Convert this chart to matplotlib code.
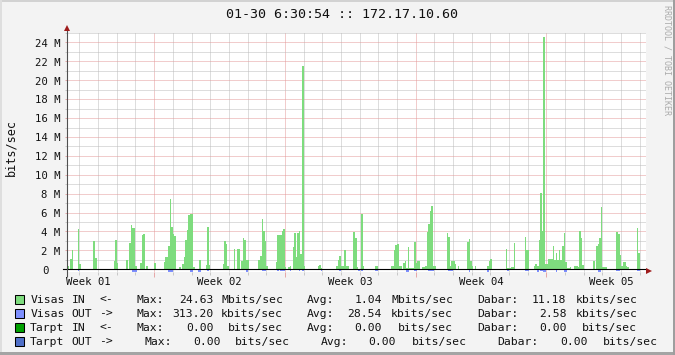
import numpy as np
import matplotlib
matplotlib.use("Agg")
import matplotlib.pyplot as plt
from matplotlib import transforms
from matplotlib.patches import Rectangle

# ---------------- data ----------------
title = "01-30 6:30:54 :: 172.17.10.60"
y_label = "bits/sec"
watermark = "RRDTOOL / TOBI OETIKER"
week_labels = ["Week 01", "Week 02", "Week 03", "Week 04", "Week 05"]
week_label_hours = [28, 196, 364, 532, 700]
week_start_hours = [112, 280, 448, 616]
day_start_hours = [h for h in range(16, 744, 24) if h not in (112, 280, 448, 616)]
span_hours = 744
step_hours = 2
y_major_ticks = list(range(0, 25, 2))
y_minor_ticks = list(range(1, 26, 2))
y_tick_labels = ["0"] + [f"{v} M" for v in range(2, 25, 2)]

# Visas IN (Mbit/s), start hour of each 2-hour sample
in_hours = [
    0, 4, 6, 14, 16, 34, 36, 60, 62, 64,
    76, 80, 82, 84, 86, 88, 94, 96, 98, 102,
    112, 124, 126, 128, 130, 132, 134, 136, 138, 144,
    148, 150, 152, 154, 156, 158, 160, 162, 170, 178,
    180, 182, 200, 202, 204, 206, 214, 218, 220, 224,
    226, 228, 230, 232, 246, 248, 250, 252, 254, 256,
    268, 270, 272, 274, 276, 278, 280, 284, 286, 290,
    292, 294, 296, 298, 300, 302, 304, 322, 324, 326,
    346, 348, 350, 352, 354, 356, 358, 360, 368, 370,
    372, 378, 380, 396, 398, 416, 418, 420, 422, 424,
    426, 428, 432, 434, 436, 438, 440, 442, 444, 446,
    448, 450, 452, 456, 458, 460, 462, 464, 466, 468,
    470, 472, 488, 490, 492, 494, 496, 498, 502, 514,
    516, 518, 520, 524, 540, 542, 544, 564, 566, 568,
    570, 572, 574, 588, 590, 592, 600, 602, 604, 606,
    608, 610, 612, 614, 616, 618, 620, 622, 624, 626,
    628, 630, 632, 634, 636, 638, 640, 642, 644, 646,
    652, 654, 656, 658, 660, 662, 676, 680, 682, 684,
    686, 688, 690, 692, 706, 708, 710, 712, 714, 716,
    718, 720, 732, 734]
in_mbps = [
    0.3, 1.1, 2.0, 4.3, 0.55, 3.0, 1.15, 0.9, 3.1, 0.7,
    0.95, 2.75, 4.7, 4.4, 4.35, 0.3, 0.7, 3.65, 3.75, 0.3,
    0.7, 0.8, 1.3, 1.3, 2.5, 7.4, 4.5, 3.7, 3.5, 0.25,
    0.55, 1.3, 3.1, 4.2, 5.7, 5.8, 5.8, 0.2, 1.0, 0.5,
    4.5, 0.5, 0.6, 3.0, 2.7, 0.4, 2.2, 2.2, 2.2, 0.9,
    3.3, 3.1, 1.0, 1.0, 1.0, 1.4, 5.3, 4.0, 3.0, 0.3,
    0.8, 3.6, 3.6, 3.6, 4.1, 4.3, 0.2, 0.2, 0.3, 2.4,
    3.8, 1.3, 3.8, 4.0, 1.6, 21.5, 0.3, 0.3, 0.5, 0.1,
    0.4, 1.0, 1.45, 0.4, 0.4, 2.0, 0.4, 0.4, 3.9, 3.3,
    0.2, 5.9, 0.3, 0.4, 0.35, 0.3, 0.3, 2.0, 2.6, 2.7,
    0.3, 0.4, 0.7, 0.85, 0.1, 2.4, 0.1, 0.1, 0.1, 2.9,
    0.7, 0.9, 0.9, 0.2, 0.25, 0.3, 3.9, 4.8, 6.2, 6.7,
    0.3, 0.3, 3.8, 3.4, 0.3, 0.9, 0.9, 0.6, 0.3, 2.9,
    3.2, 0.9, 0.3, 0.35, 0.4, 0.9, 1.1, 2.1, 0.1, 0.1,
    0.2, 0.2, 2.8, 3.4, 2.0, 2.0, 0.4, 0.55, 0.3, 3.1,
    8.1, 4.0, 24.6, 0.55, 0.55, 1.1, 1.1, 1.1, 2.5, 1.0,
    1.75, 1.0, 2.0, 1.0, 2.5, 3.8, 0.8, 0.1, 0.15, 0.2,
    0.4, 0.3, 0.2, 4.0, 3.3, 0.5, 0.9, 2.5, 2.7, 3.3,
    6.6, 0.2, 0.25, 0.25, 3.9, 3.7, 1.5, 0.3, 0.8, 0.8,
    0.35, 0.2, 4.4, 1.7]

# Visas OUT (Mbit/s), drawn below the zero line
out_hours = [
    14, 84, 86, 88, 130, 132, 134, 158, 160, 168,
    170, 180, 230, 250, 252, 254, 270, 274, 276, 278,
    286, 298, 302, 326, 350, 374, 378, 396, 398, 436,
    438, 446, 448, 464, 466, 468, 470, 490, 492, 494,
    516, 540, 566, 588, 590, 592, 604, 608, 610, 612,
    614, 628, 638, 640, 682, 684, 706, 708, 732, 734]
out_mbps = [
    0.15, 0.25, 0.25, 0.25, 0.25, 0.25, 0.25, 0.25, 0.25, 0.3,
    0.3, 0.2, 0.3, 0.2, 0.2, 0.2, 0.2, 0.2, 0.2, 0.2,
    0.15, 0.2, 0.2, 0.15, 0.2, 0.2, 0.2, 0.2, 0.2, 0.3,
    0.3, 0.2, 0.2, 0.2, 0.2, 0.2, 0.2, 0.2, 0.2, 0.2,
    0.3, 0.25, 0.15, 0.2, 0.2, 0.2, 0.3, 0.2, 0.2, 0.31,
    0.3, 0.3, 0.3, 0.3, 0.3, 0.3, 0.2, 0.2, 0.2, 0.2]

# legend
series_first = ["Visas", "Visas", "Tarpt", "Tarpt"]
series_second = ["IN", "OUT", "IN", "OUT"]
series_arrow = ["<-", "->", "<-", "->"]
max_vals = ["24.63", "313.20", "0.00", "0.00"]
max_units = ["Mbits/sec", "kbits/sec", "bits/sec", "bits/sec"]
avg_vals = ["1.04", "28.54", "0.00", "0.00"]
avg_units = ["Mbits/sec", "kbits/sec", "bits/sec", "bits/sec"]
dabar_vals = ["11.18", "2.58", "0.00", "0.00"]
dabar_units = ["kbits/sec", "kbits/sec", "bits/sec", "bits/sec"]
series_colors = ["#7EDC7E", "#7F90FF", "#00A000", "#5070C8"]

# ---------------- layout ----------------
W, H = 675, 355
MONO = "DejaVu Sans Mono"
fig = plt.figure(figsize=(W / 100, H / 100), dpi=100, facecolor="#F3F3F3")

def fx(x):
    return x / W

def fy(y):
    return 1 - y / H

L, R, T, B = 67, 646, 33, 272
ax = fig.add_axes([fx(L), fy(B), (R - L) / W, (B - T) / H])
ax.set_facecolor("white")
for s in ax.spines.values():
    s.set_visible(False)
ax.set_xlim(0, span_hours)
ax.set_ylim(-0.285, 25)

red_grid = "#E49A9A"
gray_grid = "#BDBDBD"
ax.set_xticks(week_start_hours)
ax.set_xticks(day_start_hours, minor=True)
ax.set_yticks(y_major_ticks)
ax.set_yticks(y_minor_ticks, minor=True)
ax.set_xticklabels([])
ax.set_yticklabels([])
ax.grid(which="major", color=red_grid, linestyle=(0, (1, 1)), linewidth=0.72)
ax.grid(which="minor", color=gray_grid, linestyle=(0, (1, 1)), linewidth=0.72)
ax.set_axisbelow(True)
ax.tick_params(axis="x", which="major", direction="out", length=3.6, width=0.72, color="#E6A8A8")
ax.tick_params(axis="x", which="minor", direction="out", length=2.2, width=0.72, color="#C8C8C8")
ax.tick_params(axis="y", which="major", direction="out", length=1.5, width=0.72, color="#E6A8A8")
ax.tick_params(axis="y", which="minor", direction="out", length=1.5, width=0.72, color="#C8C8C8")

ax.bar(in_hours, in_mbps, width=step_hours, align="edge", color=series_colors[0],
       linewidth=0, antialiased=False, zorder=3)
ax.bar(out_hours, -np.array(out_mbps), width=step_hours, align="edge", color=series_colors[1],
       linewidth=0, antialiased=False, zorder=3)

# zero line and axes with arrows
ax.axhline(0, xmin=-4 / 579, xmax=1 + 1 / 579, color="black", linewidth=0.8, zorder=4, clip_on=False)
tr_xd_ya = transforms.blended_transform_factory(ax.transData, ax.transAxes)
ax.plot([0, 0], [-0.021, 1.012], color="#505050", linewidth=0.8, transform=tr_xd_ya,
        clip_on=False, zorder=5, solid_capstyle="butt")
ax.plot([0], [1.02], marker="^", markersize=4.4, color="#9E1B1B", markeredgewidth=0,
        transform=tr_xd_ya, clip_on=False, zorder=6)
ax.plot([1.006], [0.004], marker=">", markersize=4.4, color="#9E1B1B", markeredgewidth=0,
        transform=ax.transAxes, clip_on=False, zorder=6)

# y tick labels
shift = transforms.ScaledTranslation(0, -4.3 / 100, fig.dpi_scale_trans)
tr_yl = transforms.blended_transform_factory(fig.transFigure, ax.transData) + shift
for v, lab in zip(y_major_ticks, y_tick_labels):
    xr = 60.3 if v else 48.6
    fig.text(fx(xr), v, lab, transform=tr_yl, ha="right", va="baseline",
             fontsize=7.7, family=MONO, color="#111111")

# week labels
tr_wl = transforms.blended_transform_factory(ax.transData, fig.transFigure)
for h, lab in zip(week_label_hours, week_labels):
    fig.text(h, fy(285), lab, transform=tr_wl, ha="center", va="baseline",
             fontsize=7.7, family=MONO, color="#111111")

# title, axis label, watermark
fig.text(fx(341.5), fy(18.3), title, ha="center", va="baseline", fontsize=9.6,
         family=MONO, color="#111111")
fig.text(fx(11), fy(148), y_label, rotation=90, ha="center", va="center", fontsize=8.5,
         family=MONO, color="#111111")
fig.text(fx(667), fy(60), watermark, rotation=270, ha="center", va="center", fontsize=6,
         family=MONO, color="#ABABAB")

# legend
row_baselines = [303, 317, 331, 345]
col_x = [
    [30.2, 71.7, 99.3, 136.8, 179.3, 221.2, 306.8, 354.3, 391.2, 477.0, 532.0, 575.4],
    [30.2, 71.7, 99.3, 136.8, 172.4, 221.2, 306.8, 347.6, 391.2, 477.0, 539.0, 575.4],
    [30.2, 71.7, 99.3, 136.8, 186.2, 227.8, 306.8, 354.3, 398.0, 477.0, 539.0, 582.2],
    [30.2, 71.7, 99.3, 144.4, 193.0, 235.0, 321.0, 368.6, 412.2, 497.6, 559.8, 603.0],
]
for i in range(4):
    tokens = [series_first[i], series_second[i], series_arrow[i], "Max:", max_vals[i], max_units[i],
              "Avg:", avg_vals[i], avg_units[i], "Dabar:", dabar_vals[i], dabar_units[i]]
    for xpos, tok in zip(col_x[i], tokens):
        fig.text(fx(xpos), fy(row_baselines[i]), tok, ha="left", va="baseline",
                 fontsize=8.2, family=MONO, color="#111111")
    fig.patches.append(Rectangle((fx(15), fy(row_baselines[i] - 8) - 9 / H), 9 / W, 9 / H,
                                 transform=fig.transFigure, facecolor=series_colors[i],
                                 edgecolor="black", linewidth=0.75))

# 3D-like frame
fig.patches.append(Rectangle((0, fy(2)), 1, 2 / H, transform=fig.transFigure,
                             facecolor="#D2D2D2", edgecolor="none"))
fig.patches.append(Rectangle((0, 0), 2 / W, 1, transform=fig.transFigure,
                             facecolor="#DEDEDE", edgecolor="none"))
fig.patches.append(Rectangle((0, 0), 1, 3 / H, transform=fig.transFigure,
                             facecolor="#A4A4A4", edgecolor="none"))
fig.patches.append(Rectangle((1 - 2 / W, 0), 2 / W, 1, transform=fig.transFigure,
                             facecolor="#9E9E9E", edgecolor="none"))

fig.savefig("out.png", dpi=100, facecolor=fig.get_facecolor())
